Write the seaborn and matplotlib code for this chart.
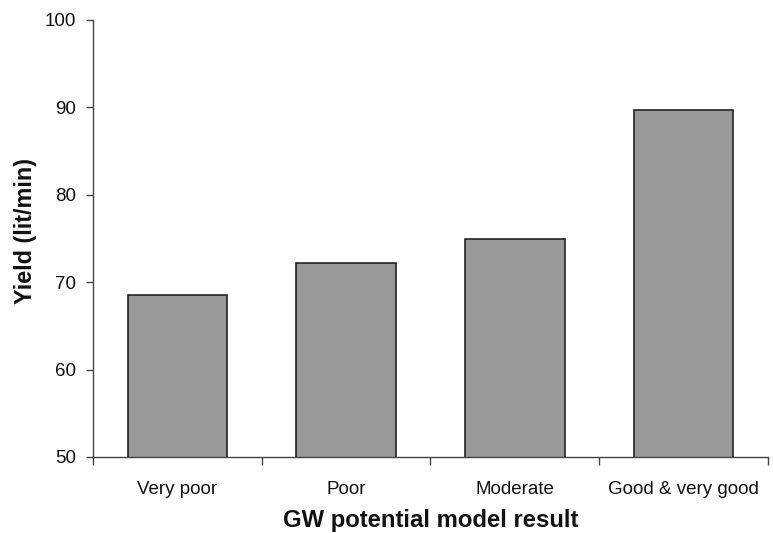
import matplotlib
matplotlib.use("Agg")
import matplotlib.pyplot as plt
import seaborn as sns
import pandas as pd
from matplotlib.ticker import FixedLocator, NullFormatter

categories = ["Very poor", "Poor", "Moderate", "Good & very good"]
yield_values = [68.5, 72.2, 74.9, 89.7]
y_ticks = [50, 60, 70, 80, 90, 100]

sns.set_theme(style="white")
plt.rcParams['font.family'] = ['Liberation Sans', 'DejaVu Sans']

df = pd.DataFrame({"category": categories, "yield": yield_values})

fig = plt.figure(figsize=(7.73, 5.33), dpi=100)
ax = fig.add_axes([0.1203, 0.1426, 0.8732, 0.8199])

sns.barplot(data=df, x="category", y="yield", ax=ax, color="#999999",
            saturation=1, width=0.59, edgecolor="#222222", linewidth=1.2)

ax.set_ylim(50, 100)
ax.set_yticks(y_ticks)
ax.set_xlim(-0.5, len(categories) - 0.5)

# x ticks at category boundaries, labels at centres
ax.xaxis.set_major_locator(FixedLocator([i - 0.5 for i in range(len(categories) + 1)]))
ax.xaxis.set_major_formatter(NullFormatter())
ax.xaxis.set_minor_locator(FixedLocator(list(range(len(categories)))))
ax.set_xticklabels(categories, minor=True)
ax.tick_params(axis="x", which="major", direction="out", length=6, width=1, color="#444444", bottom=True)
ax.tick_params(axis="x", which="minor", length=0, pad=17, labelsize=13.5, labelcolor="#111111")
ax.tick_params(axis="y", direction="out", length=5, width=1, color="#444444", left=True,
               labelsize=13.5, labelcolor="#111111", pad=7)

for s in ["top", "right"]:
    ax.spines[s].set_visible(False)
for s in ["left", "bottom"]:
    ax.spines[s].set_color("#444444")
    ax.spines[s].set_linewidth(1)

ax.set_xlabel("GW potential model result", fontsize=17.2, fontweight="bold", color="#111111")
ax.xaxis.set_label_coords(0.5, -0.118)
ax.xaxis.label.set_va("top")
ax.set_ylabel("Yield (lit/min)", fontsize=16.8, fontweight="bold", color="#111111")
ax.yaxis.set_label_coords(-0.083, 0.517)

fig.savefig("out.png", dpi=100)
